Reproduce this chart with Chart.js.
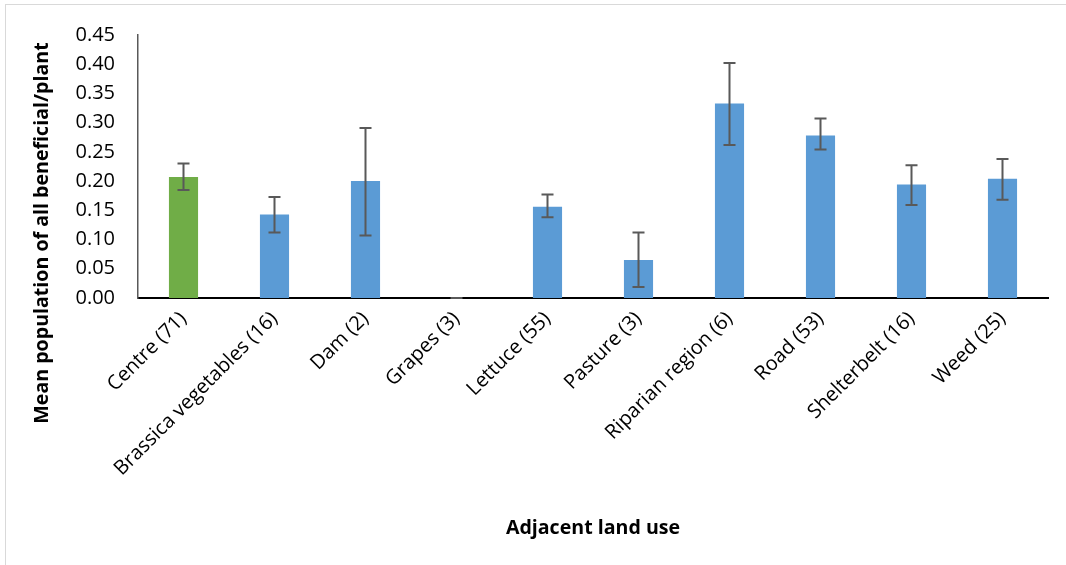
<!DOCTYPE html>
<html>
<head>
<meta charset="utf-8">
<script src="https://cdn.jsdelivr.net/npm/chart.js@4/dist/chart.umd.min.js"></script>
<style>
  html, body { margin: 0; padding: 0; background: #fff; }
  #frame {
    position: absolute; left: 5px; top: 4px; width: 1100px; height: 600px;
    border-left: 1px solid #d9d9d9; border-top: 1px solid #d9d9d9;
  }
  #wrap { position: absolute; left: 0; top: 0; width: 1066px; height: 565px; }
</style>
</head>
<body>
<div id="frame"></div>
<div id="wrap"><canvas id="c" width="1066" height="565"></canvas></div>
<script>
// Mean number of beneficials per plant by adjacent land use (sample size in brackets)
const categories = [
  'Centre (71)', 'Brassica vegetables (16)', 'Dam (2)', 'Grapes (3)', 'Lettuce (55)',
  'Pasture (3)', 'Riparian region (6)', 'Road (53)', 'Shelterbelt (16)', 'Weed (25)'
];
const meanValues = [0.207, 0.143, 0.200, 0.000, 0.156, 0.065, 0.333, 0.278, 0.194, 0.204];
const errorLow   = [0.185, 0.112, 0.107, 0.000, 0.138, 0.019, 0.262, 0.254, 0.159, 0.168];
const errorHigh  = [0.230, 0.173, 0.291, 0.000, 0.177, 0.112, 0.402, 0.307, 0.227, 0.238];
const yTicks = [0, 0.05, 0.10, 0.15, 0.20, 0.25, 0.30, 0.35, 0.40, 0.45];

const barColors = categories.map((c, i) => i === 0 ? '#70ad47' : '#5b9bd5');
const FONT = "'Open Sans', 'Liberation Sans', sans-serif";

// Error bars drawn from errorLow/errorHigh through the y scale
const errorBars = {
  id: 'errorBars',
  afterDatasetsDraw(chart) {
    const ctx = chart.ctx;
    const y = chart.scales.y;
    const meta = chart.getDatasetMeta(0);
    ctx.save();
    ctx.strokeStyle = '#595959';
    ctx.lineWidth = 2;
    meta.data.forEach((bar, i) => {
      const x = bar.x;
      const yl = y.getPixelForValue(errorLow[i]);
      const yh = y.getPixelForValue(errorHigh[i]);
      const cap = 6;
      ctx.beginPath();
      ctx.moveTo(x, yl); ctx.lineTo(x, yh);
      ctx.moveTo(x - cap, yh); ctx.lineTo(x + cap, yh);
      ctx.moveTo(x - cap, yl); ctx.lineTo(x + cap, yl);
      ctx.stroke();
    });
    ctx.restore();
  }
};

// Axis titles
const axisTitles = {
  id: 'axisTitles',
  afterDraw(chart) {
    const ctx = chart.ctx;
    const area = chart.chartArea;
    ctx.save();
    ctx.fillStyle = '#000';
    ctx.font = `bold 19.6px ${FONT}`;
    ctx.textAlign = 'center';
    ctx.textBaseline = 'middle';
    ctx.fillText('Adjacent land use', (area.left + area.right) / 2, 528);
    ctx.translate(42, 233);
    ctx.rotate(-Math.PI / 2);
    ctx.fillText('Mean population of all beneficial/plant', 0, 0);
    ctx.restore();
  }
};

new Chart(document.getElementById('c'), {
  type: 'bar',
  data: {
    labels: categories,
    datasets: [{
      data: meanValues,
      backgroundColor: barColors,
      borderWidth: 0,
      barPercentage: 0.32,
      categoryPercentage: 1.0
    }]
  },
  options: {
    responsive: false,
    animation: false,
    layout: { padding: { left: 0, right: 18, top: 33, bottom: 0 } },
    plugins: { legend: { display: false }, tooltip: { enabled: false } },
    scales: {
      x: {
        grid: { display: false, drawTicks: false },
        border: { display: true, color: '#000', width: 2 },
        ticks: {
          color: '#000', font: { family: FONT, size: 20 },
          maxRotation: 45, minRotation: 45, autoSkip: false, padding: 9
        },
        afterFit(scale) { scale.height = 565 - 298; }
      },
      y: {
        min: 0, max: 0.45,
        grid: { display: false, drawTicks: false },
        border: { display: true, color: '#595959', width: 1.5 },
        afterBuildTicks(scale) { scale.ticks = yTicks.map(v => ({ value: v })); },
        ticks: {
          color: '#000', font: { family: FONT, size: 20 }, padding: 23,
          callback: v => v.toFixed(2)
        },
        afterFit(scale) { scale.width = 138; }
      }
    }
  },
  plugins: [errorBars, axisTitles]
});
</script>
</body>
</html>
